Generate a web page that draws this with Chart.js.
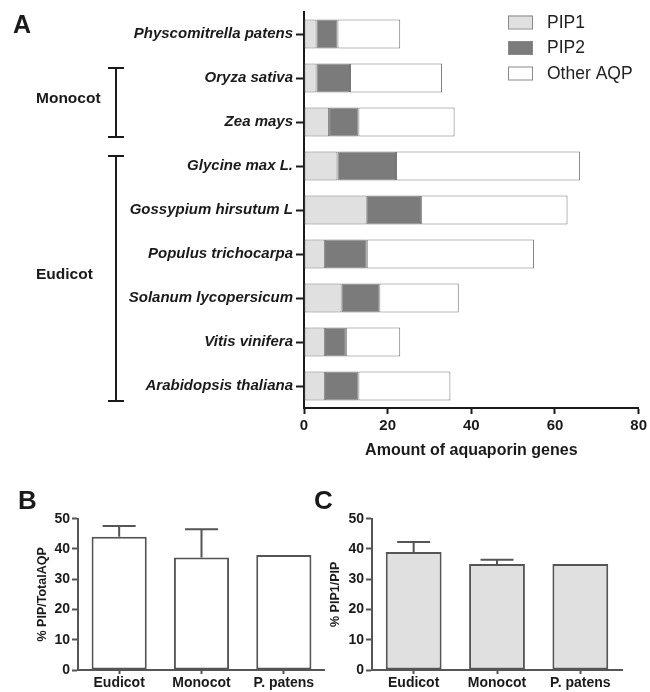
<!DOCTYPE html>
<html>
<head>
<meta charset="utf-8">
<script src="https://cdn.jsdelivr.net/npm/chart.js@4"></script>
<style>
    body { margin: 0; background: #fff; }
    #page { position: relative; width: 650px; height: 692px; overflow: hidden; font-family: "Liberation Sans", Arial, sans-serif; }
    canvas { position: absolute; }
    .panel { position: absolute; font-weight: bold; line-height: 1; color: #1a1a1a; }
</style>
</head>
<body>
<div id="page">
    <canvas id="chartA" width="650" height="470" style="left:0;top:0"></canvas>
    <canvas id="chartB" width="325" height="222" style="left:0;top:470px"></canvas>
    <canvas id="chartC" width="325" height="222" style="left:325px;top:470px"></canvas>
    <div class="panel" style="left:13px;top:12px;font-size:25px">A</div>
    <div class="panel" style="left:18px;top:487px;font-size:26px">B</div>
    <div class="panel" style="left:314px;top:487px;font-size:26px">C</div>
</div>
<script>
// Panel A data
const species = ['Physcomitrella patens', 'Oryza sativa', 'Zea mays', 'Glycine max L.', 'Gossypium hirsutum L',
    'Populus trichocarpa', 'Solanum lycopersicum', 'Vitis vinifera', 'Arabidopsis thaliana'];
const pip1 = [3, 3, 6, 8, 15, 5, 9, 5, 5];
const pip2 = [5, 8, 7, 14, 13, 10, 9, 5, 8];
const otherAqp = [15, 22, 23, 44, 35, 40, 19, 13, 22];
const groupNames = ['Monocot', 'Eudicot'];
const groupFirst = [1, 3];
const groupLast = [2, 8];

// Panels B and C data
const clades = ['Eudicot', 'Monocot', 'P. patens'];
const pipTotal = [44, 37.2, 38];
const pipTotalErr = [3.6, 9.3, 0];
const pip1Pip = [39, 35, 35];
const pip1PipErr = [3.3, 1.4, 0];

const FONT = '"Liberation Sans", Arial, sans-serif';
const INK = '#1a1a1a';
Chart.defaults.font.family = FONT;
Chart.defaults.color = INK;

// legend box in the top right of panel A
const sideLegend = {
    id: 'sideLegend',
    afterDraw(chart) {
        const ctx = chart.ctx;
        ctx.save();
        chart.data.datasets.forEach((ds, i) => {
            const y = 15.5 + i * 25.5;
            ctx.fillStyle = ds.backgroundColor;
            ctx.fillRect(508, y, 24, 13);
            ctx.strokeStyle = '#8a8a8a';
            ctx.lineWidth = 1;
            ctx.strokeRect(508.5, y + 0.5, 24, 13);
            ctx.fillStyle = '#222';
            ctx.font = '17.5px ' + FONT;
            ctx.textBaseline = 'middle';
            ctx.fillText(ds.label, 547, y + 7.5);
        });
        ctx.restore();
    }
};

// Monocot / Eudicot brackets left of the species names
const groupBrackets = {
    id: 'groupBrackets',
    afterDraw(chart) {
        const ctx = chart.ctx;
        const yScale = chart.scales.y;
        ctx.save();
        ctx.strokeStyle = INK;
        ctx.lineWidth = 2;
        groupNames.forEach((name, g) => {
            const top = yScale.getPixelForValue(groupFirst[g]) - 10;
            const bottom = yScale.getPixelForValue(groupLast[g]) + 15;
            ctx.beginPath();
            ctx.moveTo(116, top); ctx.lineTo(116, bottom);
            ctx.moveTo(108, top); ctx.lineTo(124, top);
            ctx.moveTo(108, bottom); ctx.lineTo(124, bottom);
            ctx.stroke();
            ctx.fillStyle = INK;
            ctx.font = 'bold 15.5px ' + FONT;
            ctx.textBaseline = 'middle';
            ctx.fillText(name, 36, (top + bottom) / 2 - 4);
        });
        ctx.restore();
    }
};

// upward error bars (mean + SD) for panels B and C
const errorBars = {
    id: 'errorBars',
    afterDatasetsDraw(chart, args, opts) {
        const ctx = chart.ctx;
        const yScale = chart.scales.y;
        const values = chart.data.datasets[0].data;
        const bars = chart.getDatasetMeta(0).data;
        ctx.save();
        ctx.strokeStyle = '#555';
        ctx.lineWidth = 2;
        bars.forEach((bar, i) => {
            const err = opts.errors[i];
            if (!err) return;
            const y0 = yScale.getPixelForValue(values[i]);
            const y1 = yScale.getPixelForValue(values[i] + err);
            ctx.beginPath();
            ctx.moveTo(bar.x, y0); ctx.lineTo(bar.x, y1);
            ctx.moveTo(bar.x - 16.5, y1); ctx.lineTo(bar.x + 16.5, y1);
            ctx.stroke();
        });
        ctx.restore();
    }
};

new Chart(document.getElementById('chartA').getContext('2d'), {
    type: 'bar',
    data: {
        labels: species,
        datasets: [
            { label: 'PIP1', data: pip1, backgroundColor: '#e0e0e0' },
            { label: 'PIP2', data: pip2, backgroundColor: '#7b7b7b' },
            { label: 'Other AQP', data: otherAqp, backgroundColor: '#ffffff' }
        ]
    },
    options: {
        indexAxis: 'y',
        responsive: false,
        animation: false,
        layout: { padding: { top: 7, right: 8, left: 0, bottom: 0 } },
        datasets: {
            bar: { borderColor: '#777', borderWidth: 1, borderSkipped: false, barPercentage: 0.66, categoryPercentage: 1 }
        },
        plugins: { legend: { display: false }, tooltip: { enabled: false } },
        scales: {
            x: {
                stacked: true,
                min: 0,
                max: 80,
                afterFit: (scale) => { scale.height = 62; },
                ticks: { stepSize: 20, padding: 3, color: INK, font: { size: 15, weight: 'bold' } },
                grid: { display: true, drawOnChartArea: false, drawTicks: true, tickLength: 6, tickWidth: 2, tickColor: INK },
                border: { display: true, color: INK, width: 2 },
                title: {
                    display: true,
                    text: 'Amount of aquaporin genes',
                    color: INK,
                    font: { size: 16, weight: 'bold' },
                    padding: { top: 0, bottom: 10 }
                }
            },
            y: {
                stacked: true,
                afterFit: (scale) => { scale.width = 304; },
                ticks: { padding: 3, color: INK, font: { size: 15, weight: 'bold', style: 'italic' } },
                grid: { display: true, offset: false, drawOnChartArea: false, drawTicks: true, tickLength: 8, tickWidth: 2, tickColor: INK },
                border: { display: true, color: INK, width: 2 }
            }
        }
    },
    plugins: [sideLegend, groupBrackets]
});

function cladeChart(canvasId, values, errors, fill, yTitle, leftPad, rightPad, titlePad) {
    return new Chart(document.getElementById(canvasId).getContext('2d'), {
        type: 'bar',
        data: {
            labels: clades,
            datasets: [{ data: values, backgroundColor: fill, borderColor: '#555', borderWidth: 2, borderSkipped: false,
                barPercentage: 0.67, categoryPercentage: 1 }]
        },
        options: {
            responsive: false,
            animation: false,
            layout: { padding: { top: 48.7, right: rightPad, left: 0, bottom: 0 } },
            plugins: { legend: { display: false }, tooltip: { enabled: false }, errorBars: { errors: errors } },
            scales: {
                x: {
                    afterFit: (scale) => { scale.height = 22; },
                    ticks: { padding: 1, color: INK, font: { size: 14, weight: 'bold' } },
                    grid: { display: true, offset: false, drawOnChartArea: false, drawTicks: true, tickLength: 4, tickWidth: 2, tickColor: '#555' },
                    border: { display: true, color: '#555', width: 2 }
                },
                y: {
                    min: 0,
                    max: 50,
                    afterFit: (scale) => { scale.width = leftPad; },
                    ticks: { stepSize: 10, padding: 2, color: INK, font: { size: 14, weight: 'bold' } },
                    grid: { display: true, drawOnChartArea: false, drawTicks: true, tickLength: 6, tickWidth: 2, tickColor: '#555' },
                    border: { display: true, color: '#555', width: 2 },
                    title: {
                        display: true,
                        text: yTitle,
                        color: INK,
                        font: { size: 12.5, weight: 'bold' },
                        padding: { top: titlePad, bottom: 0 }
                    }
                }
            }
        },
        plugins: [errorBars]
    });
}

cladeChart('chartB', pipTotal, pipTotalErr, '#ffffff', '% PIP/TotalAQP', 78, 0, 35);
cladeChart('chartC', pip1Pip, pip1PipErr, '#e0e0e0', '% PIP1/PIP', 47, 28, 3);
</script>
</body>
</html>
